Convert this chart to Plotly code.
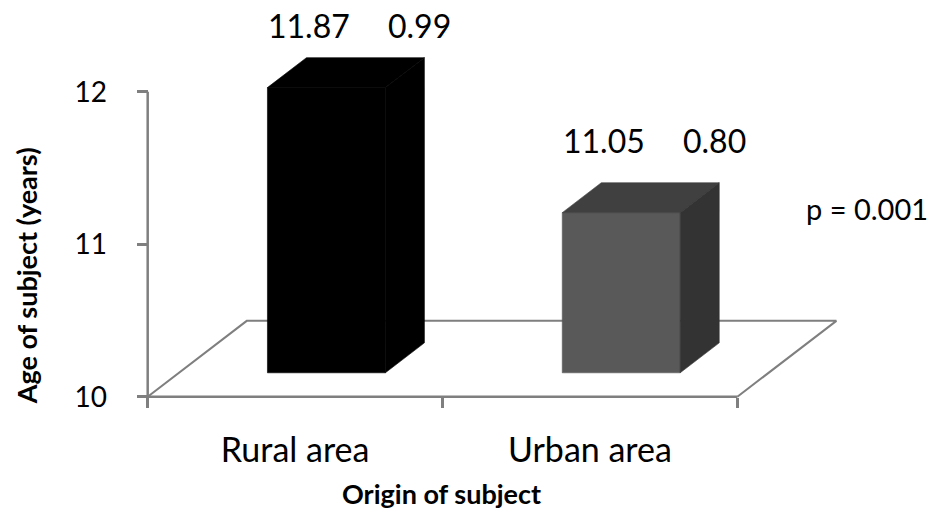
import plotly.graph_objects as go

# ---- data -------------------------------------------------------------
categories = ["Rural area", "Urban area"]
mean_age = [11.87, 11.05]
sd_age = [0.99, 0.80]
y_ticks = [10, 11, 12]
p_text = "p = 0.001"

# ---- geometry of the oblique 3-D box (data units) ----------------------
Y_BASE = 10.0                 # floor level of the value axis
X_MIN, X_MAX = -0.06, 2.45    # x range (categories occupy 0..2)
Y_MIN, Y_MAX = 9.92, 12.30    # y range
FLOOR_DX, FLOOR_DY = 0.336, 0.498   # depth offset of the floor's back edge
BAR_FRONT, BAR_BACK = 0.316, 0.71   # bar depth as fraction of floor depth
BAR_WIDTH = 0.40

# pixel layout of the plot area
PX_PER_X, PX_PER_Y = 294.5, 152.5
ORIGIN_PX = (148, 397)
W, H = 932, 521
L = ORIGIN_PX[0] + X_MIN * PX_PER_X
R = ORIGIN_PX[0] + X_MAX * PX_PER_X
T = ORIGIN_PX[1] - (Y_MAX - Y_BASE) * PX_PER_Y
B = ORIGIN_PX[1] - (Y_MIN - Y_BASE) * PX_PER_Y


def paper(px, py):
    return (px - L) / (R - L), (B - py) / (B - T)


GRAY = "#7f7f7f"
FONT = "Lato"
front_colors = ["#000000", "#595959"]
top_colors = ["#000000", "#404040"]
side_colors = ["#000000", "#333333"]

fig = go.Figure()

# floor outline and axis lines
n = len(categories)
fig.add_trace(go.Scatter(
    x=[0, FLOOR_DX, n + FLOOR_DX, n],
    y=[Y_BASE, Y_BASE + FLOOR_DY, Y_BASE + FLOOR_DY, Y_BASE],
    mode="lines", line=dict(color=GRAY, width=2), hoverinfo="skip"))
fig.add_trace(go.Scatter(
    x=[0, n], y=[Y_BASE, Y_BASE],
    mode="lines", line=dict(color=GRAY, width=2.5), hoverinfo="skip"))
fig.add_trace(go.Scatter(
    x=[0, 0], y=[Y_BASE, max(y_ticks)],
    mode="lines", line=dict(color=GRAY, width=2.5), hoverinfo="skip"))

# 3-D bars: front, top and side faces
dxf, dyf = BAR_FRONT * FLOOR_DX, BAR_FRONT * FLOOR_DY
dxb, dyb = BAR_BACK * FLOOR_DX, BAR_BACK * FLOOR_DY
annotations = []
label_lift = [62, 72]
for i, (cat, m, s) in enumerate(zip(categories, mean_age, sd_age)):
    xl = i + 0.5 - BAR_WIDTH / 2
    xr = i + 0.5 + BAR_WIDTH / 2
    faces = [
        ([xl + dxf, xr + dxf, xr + dxf, xl + dxf],
         [Y_BASE + dyf, Y_BASE + dyf, m + dyf, m + dyf], front_colors[i]),
        ([xl + dxf, xr + dxf, xr + dxb, xl + dxb],
         [m + dyf, m + dyf, m + dyb, m + dyb], top_colors[i]),
        ([xr + dxf, xr + dxb, xr + dxb, xr + dxf],
         [Y_BASE + dyf, Y_BASE + dyb, m + dyb, m + dyf], side_colors[i]),
    ]
    for fx, fy, col in faces:
        fig.add_trace(go.Scatter(
            x=fx + [fx[0]], y=fy + [fy[0]], fill="toself", fillcolor=col,
            mode="lines", line=dict(color=col, width=0.6),
            name=cat, hoverinfo="skip"))
    cx = i + 0.5 + dxf
    for txt, shift in ((f"{m:.2f}", -17), (f"{s:.2f}", 93)):
        annotations.append(dict(
            x=cx, y=m + dyf, xref="x", yref="y", text=txt, showarrow=False,
            xshift=shift, yshift=label_lift[i], xanchor="center", yanchor="middle",
            font=dict(family=FONT, size=32, color="#000000")))

# p-value and axis titles
px_, py_ = paper(867, 209)
annotations.append(dict(x=px_, y=py_, xref="paper", yref="paper", text=p_text,
                        showarrow=False, xanchor="center", yanchor="middle",
                        font=dict(family=FONT, size=29, color="#000000")))
tx, ty = paper(27, 276)
annotations.append(dict(x=tx, y=ty, xref="paper", yref="paper",
                        text="<b>Age of subject (years)</b>", textangle=-90,
                        showarrow=False, xanchor="center", yanchor="middle",
                        font=dict(family=FONT, size=27, color="#000000")))
tx, ty = paper(441, 494)
annotations.append(dict(x=tx, y=ty, xref="paper", yref="paper",
                        text="<b>Origin of subject</b>",
                        showarrow=False, xanchor="center", yanchor="middle",
                        font=dict(family=FONT, size=27, color="#000000")))

fig.update_layout(
    width=W, height=H,
    margin=dict(l=L, r=W - R, t=T, b=H - B, pad=0),
    plot_bgcolor="white", paper_bgcolor="white",
    showlegend=False,
    annotations=annotations,
    xaxis=dict(
        range=[X_MIN, X_MAX], anchor="free",
        position=(Y_BASE - Y_MIN) / (Y_MAX - Y_MIN),
        tickmode="array", tickvals=[i + 0.5 for i in range(n)],
        ticktext=categories, ticks="", showline=False, showgrid=False,
        zeroline=False, ticklabelstandoff=30,
        tickfont=dict(family=FONT, size=34, color="#000000"),
        minor=dict(tickmode="array", tickvals=list(range(n + 1)),
                   ticks="outside", ticklen=10, tickwidth=2.5,
                   tickcolor=GRAY, showgrid=False),
    ),
    yaxis=dict(
        range=[Y_MIN, Y_MAX], anchor="free",
        position=(0 - X_MIN) / (X_MAX - X_MIN),
        tickmode="array", tickvals=y_ticks, ticks="outside", ticklen=11,
        tickwidth=2.5, tickcolor=GRAY, showline=False, showgrid=False,
        zeroline=False, ticklabelstandoff=24,
        tickfont=dict(family=FONT, size=28, color="#000000"),
    ),
)

fig.write_html("out.html")
